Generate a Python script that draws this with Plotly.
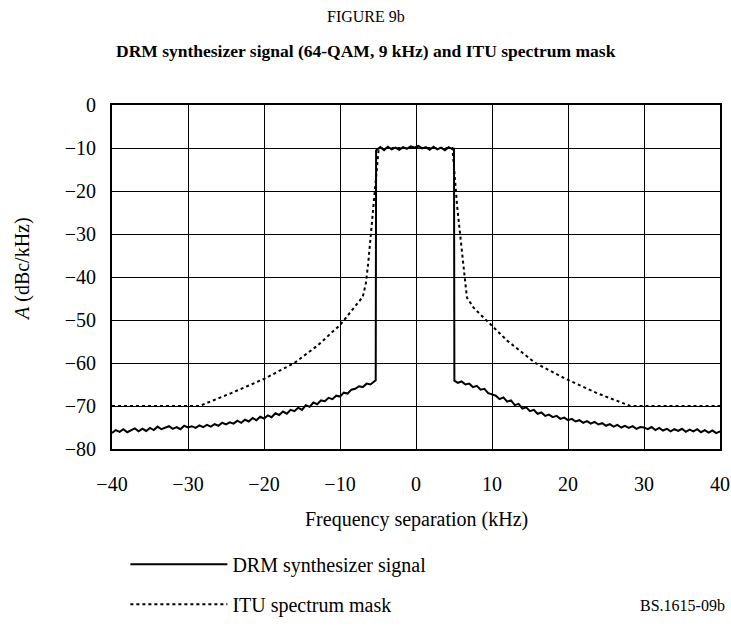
import plotly.graph_objects as go

# DRM synthesizer signal (kHz, dBc/kHz)
drm_freq = [
    -40.0, -39.5, -39.0, -38.5, -38.0, -37.5, -37.0, -36.5, -36.0, -35.5,
    -35.0, -34.5, -34.0, -33.5, -33.0, -32.5, -32.0, -31.5, -31.0, -30.5,
    -30.0, -29.5, -29.0, -28.5, -28.0, -27.5, -27.0, -26.5, -26.0, -25.5,
    -25.0, -24.5, -24.0, -23.5, -23.0, -22.5, -22.0, -21.5, -21.0, -20.5,
    -20.0, -19.5, -19.0, -18.5, -18.0, -17.5, -17.0, -16.5, -16.0, -15.5,
    -15.0, -14.5, -14.0, -13.5, -13.0, -12.5, -12.0, -11.5, -11.0, -10.5,
    -10.0, -9.5, -9.0, -8.5, -8.0, -7.5, -7.0, -6.5, -6.0, -5.5,
    -5.3, -5.25,
    -4.7, -4.2, -3.7, -3.2, -2.7, -2.2, -1.7, -1.2, -0.7, -0.2,
    0.3, 0.8, 1.3, 1.8, 2.3, 2.8, 3.3, 3.8, 4.3, 4.9,
    5.0, 5.05,
    5.5, 6.0, 6.5, 7.0, 7.5, 8.0, 8.5, 9.0, 9.5, 10.0,
    10.5, 11.0, 11.5, 12.0, 12.5, 13.0, 13.5, 14.0, 14.5, 15.0,
    15.5, 16.0, 16.5, 17.0, 17.5, 18.0, 18.5, 19.0, 19.5, 20.0,
    20.5, 21.0, 21.5, 22.0, 22.5, 23.0, 23.5, 24.0, 24.5, 25.0,
    25.5, 26.0, 26.5, 27.0, 27.5, 28.0, 28.5, 29.0, 29.5, 30.0,
    30.5, 31.0, 31.5, 32.0, 32.5, 33.0, 33.5, 34.0, 34.5, 35.0,
    35.5, 36.0, 36.5, 37.0, 37.5, 38.0, 38.5, 39.0, 39.5, 40.0,
]
drm_level = [
    -76.3, -75.6, -76.0, -75.4, -76.1, -75.7, -75.2, -75.9, -75.3, -75.8,
    -75.1, -75.6, -74.8, -75.4, -75.0, -74.7, -75.3, -74.9, -75.4, -74.6,
    -75.0, -74.7, -75.1, -74.5, -74.9, -74.4, -74.8, -74.2, -74.6, -73.9,
    -74.3, -73.8, -74.1, -73.4, -73.9, -73.2, -73.6, -72.8, -73.3, -72.5,
    -72.9, -72.2, -72.6, -71.7, -72.1, -71.3, -71.8, -70.9, -71.2, -70.4,
    -70.9, -69.8, -70.2, -69.2, -69.6, -68.7, -68.9, -68.1, -68.4, -67.6,
    -67.8, -66.9, -67.1, -66.2, -66.0, -65.4, -65.6, -64.8, -65.0, -64.3,
    -64.0, -10.6,
    -9.8, -10.5, -9.7, -10.3, -9.9, -10.4, -9.8, -10.2, -9.6, -9.9,
    -9.5, -10.1, -9.8, -10.4, -9.7, -10.3, -9.9, -10.5, -9.8, -10.4,
    -10.3, -64.1,
    -64.6, -64.3, -65.0, -64.8, -65.6, -65.3, -66.2, -66.0, -67.0, -67.3,
    -67.6, -68.4, -68.0, -69.0, -68.7, -69.8, -69.5, -70.6, -70.3, -71.2,
    -70.9, -71.8, -71.5, -72.3, -72.0, -72.6, -72.3, -73.0, -72.7, -73.3,
    -73.0, -73.6, -73.3, -73.9, -73.5, -74.1, -73.7, -74.3, -74.0, -74.6,
    -74.2, -74.8, -74.4, -75.0, -74.6, -75.1, -74.7, -75.3, -74.9, -75.0,
    -75.4, -74.9, -75.6, -75.1, -75.7, -75.3, -75.9, -75.4, -75.8, -75.3,
    -76.0, -75.5, -75.9, -75.4, -76.1, -75.6, -76.2, -75.7, -76.3, -75.9,
]

# ITU spectrum mask
mask_freq = [-40, -28.5, -24.3, -20, -16, -13, -10, -8.2, -7.0, -6.6, -6.3, -5.6, -4.9,
             4.8, 5.4, 6.1, 6.4, 6.7, 7.6, 9.8, 12, 15.7, 19.7, 23.8, 28.2, 40]
mask_level = [-70, -70, -67.0, -63.7, -60, -56, -51.2, -47.2, -44.6, -41.5, -37.0, -23.5, -10,
              -10, -23.3, -35.0, -39.5, -44.8, -47.2, -51.1, -54.8, -60, -63.7, -67.0, -70, -70]

x_ticks = [-40, -30, -20, -10, 0, 10, 20, 30, 40]
y_ticks = [0, -10, -20, -30, -40, -50, -60, -70, -80]

serif = "Liberation Serif, Times New Roman, serif"


def tick_text(vals):
    return [('\u2212' + str(-v)) if v < 0 else str(v) for v in vals]


fig = go.Figure()

fig.add_trace(go.Scatter(
    x=drm_freq, y=drm_level, mode='lines',
    name='DRM synthesizer signal', legendgroup='a',
    line=dict(color='black', width=2),
))

fig.add_trace(go.Scatter(
    x=mask_freq, y=mask_level, mode='lines',
    name='ITU spectrum mask', legendgroup='b',
    line=dict(color='black', width=2, dash='dot'),
))

axis_style = dict(
    showgrid=True, gridcolor='black', gridwidth=1.3,
    showline=True, linecolor='black', linewidth=2, mirror=True,
    zeroline=False, ticks='', automargin=False,
    tickfont=dict(family=serif, size=20, color='black'),
)

fig.update_xaxes(range=[-40, 40], tickvals=x_ticks, ticktext=tick_text(x_ticks),
                 ticklabelstandoff=16, **axis_style)
fig.update_yaxes(range=[-80, 0], tickvals=y_ticks, ticktext=tick_text(y_ticks),
                 ticklabelstandoff=10, **axis_style)

# titles and labels placed in pixels relative to the plot area
fig.add_annotation(text='FIGURE 9b', xref='paper', yref='paper', x=0.5, y=1,
                   xanchor='center', yanchor='middle', xshift=-50, yshift=89,
                   showarrow=False, font=dict(family=serif, size=16, color='black'))
fig.add_annotation(text='<b>DRM synthesizer signal (64-QAM, 9 kHz) and ITU spectrum mask</b>',
                   xref='paper', yref='paper', x=0.5, y=1,
                   xanchor='center', yanchor='middle', xshift=-50, yshift=54,
                   showarrow=False, font=dict(family=serif, size=17.5, color='black'))
fig.add_annotation(text='Frequency separation (kHz)', xref='paper', yref='paper', x=0.5, y=0,
                   xanchor='center', yanchor='middle', yshift=-70,
                   showarrow=False, font=dict(family=serif, size=20, color='black'))
fig.add_annotation(text='<i>A</i> (dBc/kHz)', xref='paper', yref='paper', x=0, y=0.5,
                   xanchor='center', yanchor='middle', xshift=-90, yshift=8, textangle=-90,
                   showarrow=False, font=dict(family=serif, size=20, color='black'))
fig.add_annotation(text='BS.1615-09b', xref='paper', yref='paper', x=1, y=0,
                   xanchor='right', yanchor='middle', xshift=7, yshift=-156,
                   showarrow=False, font=dict(family=serif, size=16, color='black'))

fig.update_layout(
    width=731, height=634,
    margin=dict(l=112, r=11, t=105, b=169),
    paper_bgcolor='white', plot_bgcolor='white',
    showlegend=True,
    legend=dict(
        x=0.022, y=-0.278, xanchor='left', yanchor='top',
        orientation='v', traceorder='grouped', tracegroupgap=11,
        itemwidth=97, bgcolor='rgba(0,0,0,0)',
        font=dict(family=serif, size=20, color='black'),
    ),
)

fig.write_html(
    "out.html",
    config={'displayModeBar': False},
    post_script="document.body.style.margin='0';document.body.style.overflow='hidden';",
)
